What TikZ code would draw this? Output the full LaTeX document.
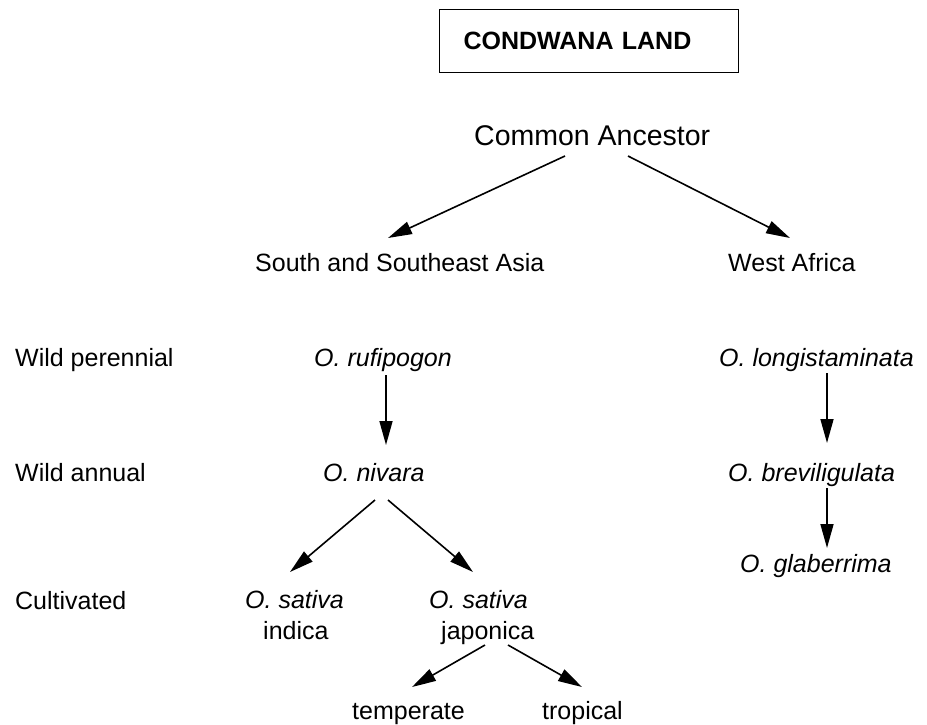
\documentclass[tikz,border=0pt]{standalone}
\usepackage{fontspec}
\setmainfont{Liberation Sans}
\usetikzlibrary{arrows.meta,calc}

\tikzset{
  txt/.style={inner sep=0pt, anchor=west, font=\fontsize{25}{31}\selectfont,
              text height=18pt, text depth=5pt},
  twoline/.style={inner sep=0pt, anchor=west, align=left,
                  font=\fontsize{25}{31}\selectfont},
  arr/.style={line width=1.6pt, -{Triangle[length=24pt,width=13pt]}},
  titlebox/.style={draw, line width=1.2pt, anchor=north west, inner xsep=24pt,
                   inner ysep=0pt, text width=251pt, minimum height=63pt,
                   align=left, font=\fontsize{25}{31}\selectfont\bfseries}
}

\begin{document}
\begin{tikzpicture}[x=1pt,y=-1pt]
  \useasboundingbox (0,0) rectangle (927,724);

  % title box
  \node[titlebox] (land) at (439,9) {\raisebox{-2pt}{CONDWANA LAND}};

  % ancestor and the two regions
  \node[txt, font=\fontsize{28.5}{34}\selectfont, text height=20pt, text depth=6pt]
       (ca) at (474,138) {Common Ancestor};
  \node[txt] (sa) at (255,264.5) {South and Southeast Asia};
  \node[txt] (wa) at (728,264.5) {West Africa};

  % row labels
  \node[txt] (lp) at (15,359.5) {Wild perennial};
  \node[txt] (la) at (15,474.5) {Wild annual};
  \node[txt] (lc) at (15,602.5) {Cultivated};

  % Asian lineage
  \node[txt] (ruf) at (314,359.5) {\textit{O. rufipogon}};
  \node[txt] (niv) at (323,474.5) {\textit{O. nivara}};
  \node[twoline] (ind) at (245,618) {\strut\textit{O. sativa}\\\hspace*{18pt}\strut indica};
  \node[twoline] (jap) at (429,618) {\strut\textit{O. sativa}\\\hspace*{12pt}\strut japonica};
  \node[txt] (tem) at (352,712.5) {temperate};
  \node[txt] (tro) at (542,712.5) {tropical};

  % African lineage
  \node[txt] (lon) at (719,359.5) {\textit{O. longistaminata}};
  \node[txt] (bre) at (728,474.5) {\textit{O. breviligulata}};
  \node[txt] (gla) at (740,565.5) {\textit{O. glaberrima}};

  % connectors
  \draw[arr] ($(ca.west)+(91,18)$)  -- ($(sa.west)+(133,-26.5)$);
  \draw[arr] ($(ca.west)+(154,18)$) -- ($(wa.west)+(62,-26.5)$);
  \draw[arr] ($(ruf.west)+(72,15.5)$) -- ($(niv.west)+(63,-29.5)$);
  \draw[arr] ($(lon.west)+(108,13.5)$) -- ($(bre.west)+(99,-31.5)$);
  \draw[arr] ($(bre.west)+(99,13.5)$) -- ($(gla.west)+(87,-17.5)$);
  \draw[arr] ($(niv.west)+(52,25.5)$) -- ($(ind.west)+(45,-46)$);
  \draw[arr] ($(niv.west)+(65,25.5)$) -- ($(jap.west)+(44,-46)$);
  \draw[arr] ($(jap.west)+(56,27)$) -- ($(tem.west)+(60,-25.5)$);
  \draw[arr] ($(jap.west)+(79,27)$) -- ($(tro.west)+(40,-25.5)$);
\end{tikzpicture}
\end{document}
